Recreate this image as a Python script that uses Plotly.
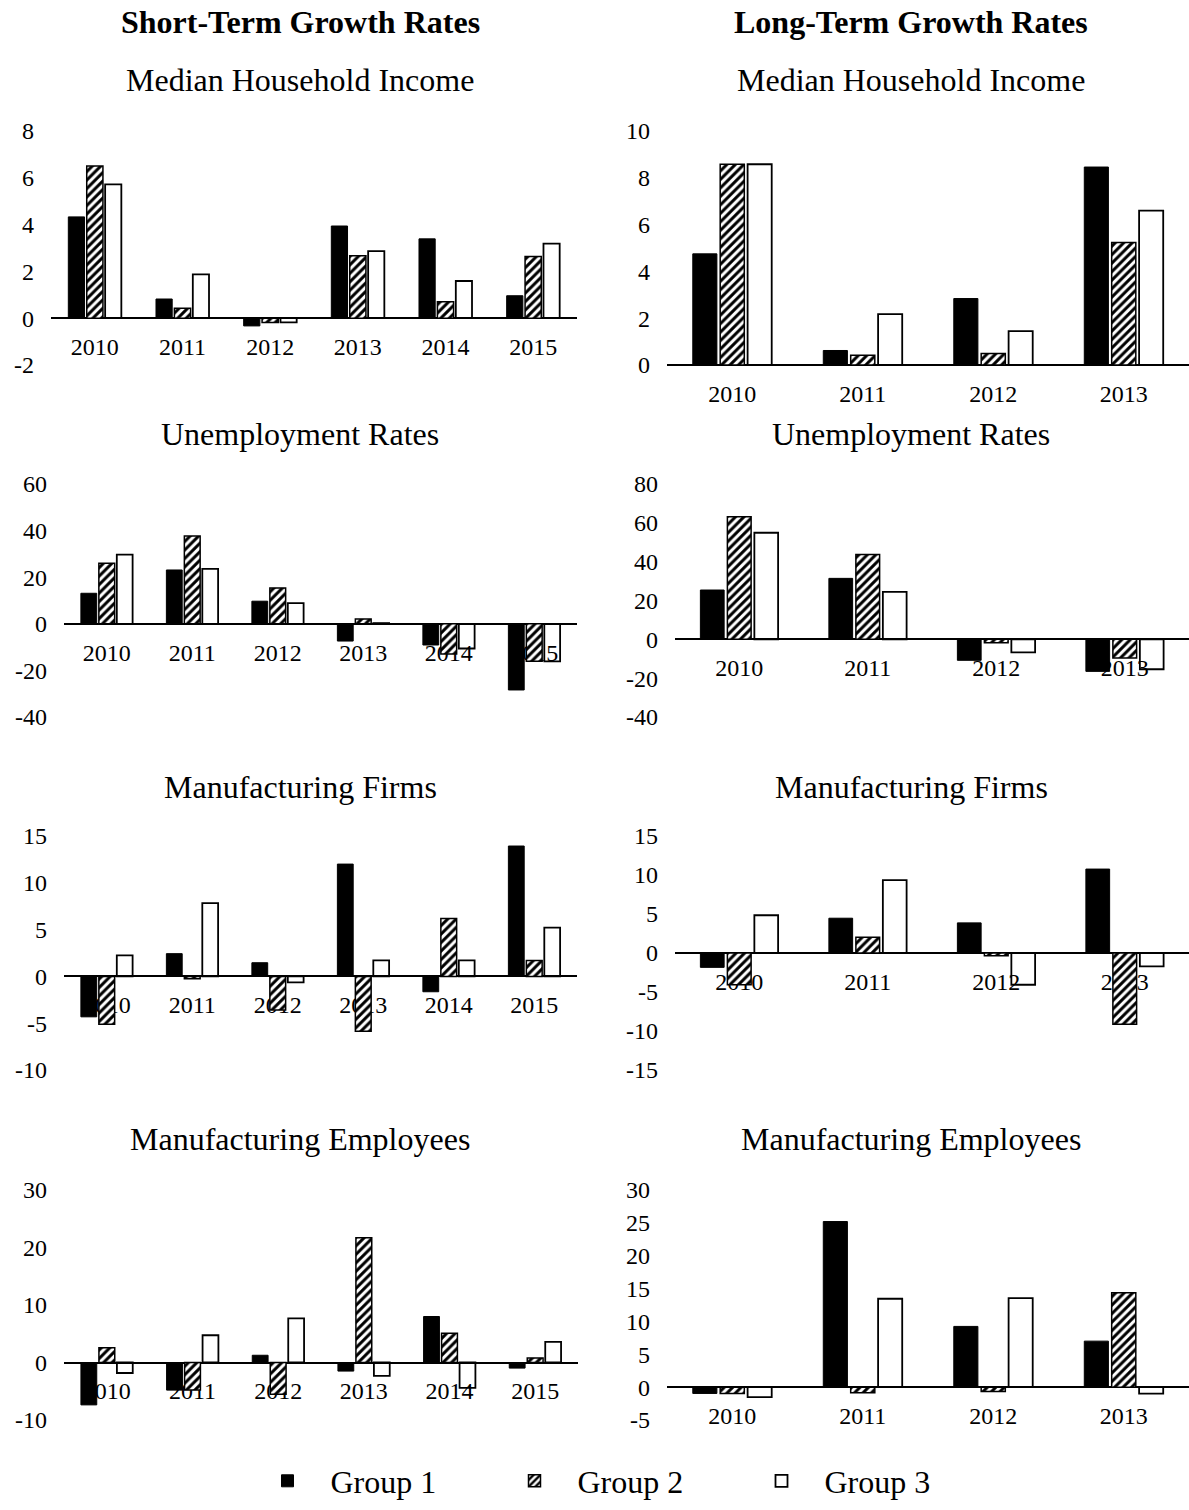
import plotly.graph_objects as go

# ---------------- data ----------------
years_short = ["2010", "2011", "2012", "2013", "2014", "2015"]
years_long = ["2010", "2011", "2012", "2013"]
groups = ["Group 1", "Group 2", "Group 3"]

# Short-term growth rates
st_income_g1 = [4.33, 0.82, -0.33, 3.94, 3.39, 0.96]
st_income_g2 = [6.50, 0.43, -0.18, 2.67, 0.70, 2.64]
st_income_g3 = [5.72, 1.87, -0.18, 2.87, 1.59, 3.19]

st_unemp_g1 = [13.1, 23.1, 9.7, -7.4, -9.1, -28.4]
st_unemp_g2 = [26.0, 37.7, 15.4, 2.1, -13.0, -16.1]
st_unemp_g3 = [29.7, 23.6, 8.9, 0.3, -10.6, -16.1]

st_firms_g1 = [-4.32, 2.43, 1.46, 12.0, -1.64, 13.93]
st_firms_g2 = [-5.10, -0.25, -3.60, -5.86, 6.18, 1.71]
st_firms_g3 = [2.25, 7.82, -0.64, 1.71, 1.71, 5.21]

st_empl_g1 = [-7.37, -4.80, 1.26, -1.49, 8.00, -0.97]
st_empl_g2 = [2.57, -4.80, -5.54, 21.7, 5.09, 0.80]
st_empl_g3 = [-1.83, 4.74, 7.66, -2.34, -4.40, 3.60]

# Long-term growth rates
lt_income_g1 = [4.75, 0.62, 2.84, 8.46]
lt_income_g2 = [8.58, 0.42, 0.49, 5.23]
lt_income_g3 = [8.58, 2.17, 1.45, 6.60]

lt_unemp_g1 = [25.4, 31.4, -10.8, -16.5]
lt_unemp_g2 = [63.1, 43.7, -1.7, -9.6]
lt_unemp_g3 = [54.9, 24.4, -6.7, -15.4]

lt_firms_g1 = [-1.84, 4.46, 3.86, 10.76]
lt_firms_g2 = [-4.07, 2.01, -0.34, -9.13]
lt_firms_g3 = [4.84, 9.34, -4.07, -1.71]

lt_empl_g1 = [-0.96, 25.2, 9.24, 7.0]
lt_empl_g2 = [-0.96, -0.86, -0.66, 14.37]
lt_empl_g3 = [-1.52, 13.45, 13.55, -1.0]

column_titles = ["Short-Term Growth Rates", "Long-Term Growth Rates"]
panel_titles = ["Median Household Income", "Unemployment Rates",
                "Manufacturing Firms", "Manufacturing Employees"]

# ---------------- layout config ----------------
W, H = 1189, 1510
FONT = "Liberation Serif"

panels = [
    dict(cats=years_short, vals=[st_income_g1, st_income_g2, st_income_g3], yr=[-2, 8], dt=2, xpx=(51, 577), row=0),
    dict(cats=years_long, vals=[lt_income_g1, lt_income_g2, lt_income_g3], yr=[0, 10], dt=2, xpx=(667, 1189), row=0),
    dict(cats=years_short, vals=[st_unemp_g1, st_unemp_g2, st_unemp_g3], yr=[-40, 60], dt=20, xpx=(64, 577), row=1),
    dict(cats=years_long, vals=[lt_unemp_g1, lt_unemp_g2, lt_unemp_g3], yr=[-40, 80], dt=20, xpx=(675, 1189), row=1),
    dict(cats=years_short, vals=[st_firms_g1, st_firms_g2, st_firms_g3], yr=[-10, 15], dt=5, xpx=(64, 577), row=2),
    dict(cats=years_long, vals=[lt_firms_g1, lt_firms_g2, lt_firms_g3], yr=[-15, 15], dt=5, xpx=(675, 1189), row=2),
    dict(cats=years_short, vals=[st_empl_g1, st_empl_g2, st_empl_g3], yr=[-10, 30], dt=10, xpx=(64, 578), row=3),
    dict(cats=years_long, vals=[lt_empl_g1, lt_empl_g2, lt_empl_g3], yr=[-5, 30], dt=5, xpx=(667, 1189), row=3),
]
row_px = [(131, 365), (484, 717), (836, 1070), (1190, 1420)]
title_y_px = [80, 434, 787, 1139]
col_center_px = [300, 911]

styles = [
    dict(color="black", line=dict(color="black", width=1)),
    dict(color="white",
         pattern=dict(shape="/", fgcolor="black", bgcolor="white", size=6, solidity=0.5, fillmode="replace"),
         line=dict(color="black", width=1.5)),
    dict(color="rgba(0,0,0,0)", line=dict(color="black", width=1.8)),
]

fig = go.Figure()
layout = {}
for i, p in enumerate(panels):
    k = i + 1
    xn = "x" if k == 1 else f"x{k}"
    yn = "y" if k == 1 else f"y{k}"
    top, bot = row_px[p["row"]]
    ydom = [1 - bot / H, 1 - top / H]
    xdom = [p["xpx"][0] / W, p["xpx"][1] / W]
    for g, (name, vals) in enumerate(zip(groups, p["vals"])):
        fig.add_trace(go.Bar(
            x=p["cats"], y=vals, name=name, marker=styles[g],
            xaxis=xn, yaxis=yn, legendgroup=name, showlegend=(i == 0),
        ))
    y0, y1 = p["yr"]
    zero_pos = ydom[0] + (0 - y0) / (y1 - y0) * (ydom[1] - ydom[0])
    tvals = list(range(y0, y1 + 1, p["dt"]))
    layout["xaxis" if k == 1 else f"xaxis{k}"] = dict(
        domain=xdom, anchor="free", position=zero_pos, type="category",
        categoryorder="array", categoryarray=p["cats"],
        showline=True, linecolor="black", linewidth=2, showgrid=False, zeroline=False,
        ticks="", ticklabelstandoff=7, tickfont=dict(family=FONT, size=24, color="black"),
        layer="below traces", fixedrange=True,
    )
    layout["yaxis" if k == 1 else f"yaxis{k}"] = dict(
        domain=ydom, anchor=xn, range=p["yr"], tickmode="array",
        tickvals=tvals, ticktext=[str(v) for v in tvals],
        showline=False, showgrid=False, zeroline=False, ticks="",
        ticklabelstandoff=16, tickfont=dict(family=FONT, size=24, color="black"),
        fixedrange=True,
    )

annotations = []
for c, t in enumerate(column_titles):
    annotations.append(dict(text=f"<b>{t}</b>", x=col_center_px[c] / W, y=1 - 22 / H,
                            xref="paper", yref="paper", showarrow=False,
                            xanchor="center", yanchor="middle",
                            font=dict(family=FONT, size=32, color="black")))
    for r, t2 in enumerate(panel_titles):
        annotations.append(dict(text=t2, x=col_center_px[c] / W, y=1 - title_y_px[r] / H,
                                xref="paper", yref="paper", showarrow=False,
                                xanchor="center", yanchor="middle",
                                font=dict(family=FONT, size=32, color="black")))

fig.update_layout(
    width=W, height=H, margin=dict(l=0, r=0, t=0, b=0, pad=0, autoexpand=False),
    paper_bgcolor="white", plot_bgcolor="rgba(0,0,0,0)",
    barmode="group", bargap=0.37, bargroupgap=0.12,
    font=dict(family=FONT, size=24, color="black"),
    annotations=annotations,
    legend=dict(orientation="h", x=615 / W, xanchor="center", y=1 - 1481 / H, yanchor="middle",
                font=dict(family=FONT, size=32, color="black"),
                entrywidth=156, entrywidthmode="pixels", itemwidth=76,
                bgcolor="rgba(0,0,0,0)"),
    **layout,
)

fig.write_html("out.html")
